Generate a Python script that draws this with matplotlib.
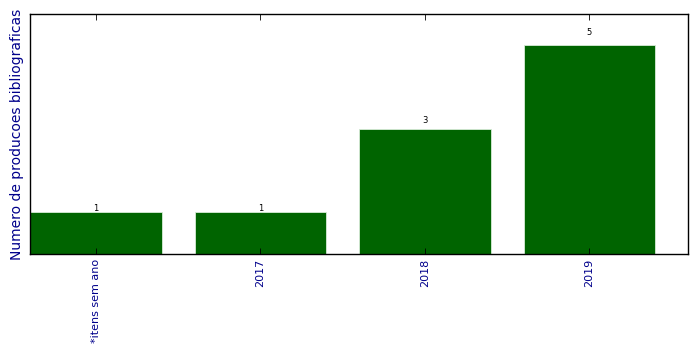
import matplotlib
matplotlib.use('Agg')
import matplotlib.pyplot as plt

categories = ['*itens sem ano', '2017', '2018', '2019']
counts = [1, 1, 3, 5]

fig = plt.figure(figsize=(6.99, 3.54), dpi=100)
ax = fig.add_axes([30 / 699, 1 - 254 / 354, 658 / 699, 240 / 354])

positions = list(range(len(categories)))
bars = ax.bar(positions, counts, width=0.8, color='#006400',
              edgecolor='#d8ecd8', linewidth=0.6)

# label each bar a little above its top
for rect, val in zip(bars, counts):
    ax.text(rect.get_x() + rect.get_width() / 2, 1.05 * rect.get_height() - 0.06,
            str(val), ha='center', va='bottom', fontsize=6)

ax.set_xlim(-0.4, 3.6)
ax.set_ylim(0, max(counts) * 1.15)
ax.set_xticks(positions)
ax.set_xticklabels(categories, rotation=90, fontsize=8, color='darkblue')
ax.set_yticks([])
ax.tick_params(axis='x', direction='in', top=True, length=4, width=0.6)
ax.set_ylabel('Numero de producoes bibliograficas', fontsize=10, color='darkblue')

for s in ax.spines.values():
    s.set_linewidth(1.0)

fig.savefig('out.png', dpi=100)
